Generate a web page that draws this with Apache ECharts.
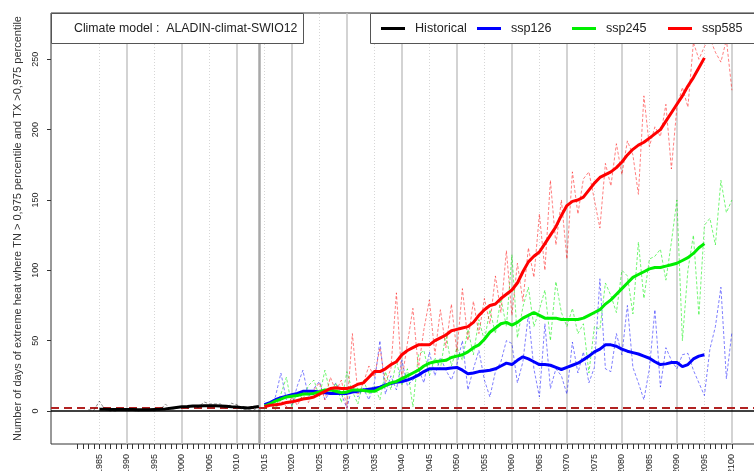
<!DOCTYPE html>
<html>
<head>
<meta charset="utf-8">
<script src="https://cdn.jsdelivr.net/npm/echarts@6/dist/echarts.min.js"></script>
<style>
  html, body { margin: 0; padding: 0; background: #fff; }
  #chart { width: 754px; height: 471px; }
</style>
</head>
<body>
<div id="chart"></div>
<script>
// Extreme heat days (TN > 0.975 and TX > 0.975 percentiles), ALADIN-climat-SWIO12

const modelLabel = 'Climate model :  ALADIN-climat-SWIO12';
const yTitle = 'Number of days of extreme heat where TN > 0,975 percentile and TX >0,975 percentile';

// Historical run: annual values from 1983, smoothed values from 1985
const histStartYear = 1983;
const histAnnual = [1, 0.5, 7, 1, 0, 0, 1, 0, 0.5, 0,
                    1, 0.5, 0, 0.5, 5, 1, 2, 3, 2, 3,
                    2.5, 6.5, 5, 5, 5, 2, 5.5, 4.5, 1, 1,
                    0.5, 3];
const histSmoothStartYear = 1985;
const histSmooth = [1.2, 1.2, 1.1, 1, 1, 1, 1, 0.8, 0.8, 0.8,
                    1, 1.2, 1.5, 2, 2.5, 3, 3.2, 3.5, 3.6, 3.8,
                    3.8, 3.7, 3.6, 3.3, 3, 2.8, 2.4, 2.2, 2.6, 3.2];

// Scenarios: annual values 2015-2100, smoothed values 2015-2095
const scenarioStartYear = 2015;
const ssp126Annual = [2, 5, 10, 27, 8, 4, 18, 29, 10, 16,
                      21, 8, 14, 20, 12, 2, 18, 10, 16, 8,
                      20, 50, 12, 25, 15, 36, 18, 22, 30, 20,
                      42, 25, 38, 29, 22, 33, 50, 15, 30, 43,
                      22, 10, 28, 35, 50, 48, 20, 35, 69, 30,
                      10, 62, 16, 30, 25, 12, 49, 27, 42, 20,
                      31, 94, 30, 28, 55, 40, 75, 31, 20, 8,
                      30, 72, 17, 45, 36, 30, 40, 41, 29, 20,
                      11, 44, 60, 88, 23, 56];
const ssp245Annual = [1, 5, 2, 12, 24, 3, 14, 8, 18, 22,
                      10, 29, 12, 20, 6, 28, 14, 5, 22, 12,
                      18, 8, 28, 15, 36, 18, 30, 3, 40, 43,
                      25, 38, 30, 55, 32, 45, 36, 58, 40, 65,
                      50, 72, 55, 80, 60, 111, 52, 74, 88, 60,
                      72, 86, 50, 92, 70, 60, 73, 55, 62, 27,
                      60, 58, 91, 82, 70, 100, 96, 69, 120, 80,
                      108, 110, 115, 93, 120, 150, 50, 100, 125, 68,
                      132, 137, 118, 164, 141, 150];
const ssp585Annual = [2, 6, 1, 8, 3, 10, 4, 12, 6, 15,
                      20, 8, 24, 14, 22, 2, 55, 12, 20, 32,
                      24, 45, 20, 30, 84, 22, 48, 73, 30, 58,
                      79, 40, 72, 45, 76, 42, 87, 50, 78, 55,
                      80, 62, 96, 70, 114, 68, 105, 78, 116, 95,
                      140, 100, 164, 118, 150, 108, 170, 140, 165, 170,
                      150, 130, 176, 160, 190, 168, 192, 182, 154, 224,
                      188, 202, 195, 218, 172, 216, 230, 216, 262, 250,
                      259, 265, 255, 248, 264, 228];

const ssp126Smooth = [4.5, 6, 8, 9.5, 10.5, 11.5, 12.5, 14, 14, 14,
                      13.5, 13, 12.5, 12.5, 12.5, 12.5, 13.5, 14, 15, 15.5,
                      16, 17, 18.5, 19.5, 20.5, 21, 22, 23.5, 25.5, 28,
                      30, 30, 30, 30, 30.5, 31, 29, 26.5, 27, 28,
                      28.5, 29, 30, 32, 34, 33, 36, 38.5, 37, 35,
                      33, 33, 32.5, 31, 29.5, 31, 32.5, 34, 36.5, 39,
                      42, 44, 47, 47, 46, 44, 42.5, 41.5, 40.5, 39,
                      37.5, 35, 33, 33.5, 34.5, 34.5, 31.5, 33, 37, 39,
                      40];
const ssp245Smooth = [3.5, 5, 7, 8.5, 10, 10.5, 11, 12, 12, 12.5,
                      13.5, 15, 15, 14, 13, 13.5, 15, 15, 14.5, 14,
                      14, 16, 18, 20, 21, 23, 25, 27, 29, 32,
                      34, 35, 35.5, 36, 38, 39, 40, 42, 45, 47,
                      51, 56, 59, 62, 63, 61, 63, 66, 68, 70,
                      68, 66, 66, 66, 65, 65, 65, 65, 66, 68,
                      70, 72, 76, 79, 83, 87, 91, 95, 97, 99,
                      101, 102, 102, 103, 104, 105, 107, 109, 112, 116,
                      119];
const ssp585Smooth = [3, 4, 4.5, 5, 6, 6.5, 7.5, 8.5, 9, 10,
                      12, 14, 16, 16.5, 16, 16, 17, 19, 20, 24,
                      28, 28, 30, 33, 35, 40, 43, 45, 47, 47,
                      47, 50, 52, 54, 57, 58, 59, 60, 63, 68,
                      72, 75, 76, 80, 83, 86, 91, 99, 106, 110,
                      113, 119, 125, 131, 139, 146, 149, 150, 152, 157,
                      162, 166, 168, 170, 173, 177, 182, 186, 189, 191,
                      194, 197, 200, 206, 212, 218, 224, 231, 237, 244,
                      251];

// Axis ticks and reference lines
const yTickValues = [0, 50, 100, 150, 200, 250];
const xLabelYears = [1985, 1990, 1995, 2000, 2005, 2010, 2015, 2020, 2025, 2030,
                     2035, 2040, 2045, 2050, 2055, 2060, 2065, 2070, 2075, 2080,
                     2085, 2090, 2095, 2100];
const firstTickYear = 1981;
const lastTickYear = 2100;
const decadeYears = [1990, 2000, 2010, 2020, 2030, 2040, 2050, 2060, 2070, 2080, 2090, 2100];
const halfDecadeYears = [1985, 1995, 2005, 2015, 2025, 2035, 2045, 2055, 2065, 2075, 2085, 2095];
const scenarioSplitYear = 2014;
const thresholdValue = 2;

const FONT = '"Liberation Sans", Arial, sans-serif';
const toPairs = (start, values) => values.map((v, i) => [start + i, v]);
const xTickYears = [];
for (let y = firstTickYear; y <= lastTickYear; y++) xTickYears.push(y);

const chart = echarts.init(document.getElementById('chart'), null, { renderer: 'canvas' });

function annualSeries(name, color, start, values, opacity) {
  return {
    name: name, type: 'line', data: toPairs(start, values),
    symbol: 'none', silent: true, z: 3, animation: false,
    lineStyle: { color: color, width: 1, type: [3, 2], opacity: opacity }
  };
}
function smoothSeries(name, color, start, values) {
  return {
    name: name, type: 'line', data: toPairs(start, values),
    symbol: 'none', silent: true, z: 4, animation: false,
    itemStyle: { color: color },
    lineStyle: { color: color, width: 3 }
  };
}

const gridLines = [];
decadeYears.forEach(y => gridLines.push({ xAxis: y, lineStyle: { color: '#c4c4c4', width: 1.5, type: 'solid' } }));
halfDecadeYears.forEach(y => gridLines.push({ xAxis: y, lineStyle: { color: '#d6d6d6', width: 1, type: [1, 2] } }));
gridLines.push({ xAxis: scenarioSplitYear, lineStyle: { color: '#a8a8a8', width: 2.5, type: 'solid' } });

const legendItems = [['Historical', 381], ['ssp126', 477], ['ssp245', 572], ['ssp585', 668]];
const plainNumber = v => String(v);

const option = {
  backgroundColor: '#fff',
  animation: false,
  grid: {
    left: 51, top: 13, right: -1, bottom: 27,
    containLabel: false, outerBoundsMode: 'none',
    show: true, borderColor: '#333', borderWidth: 1
  },
  xAxis: {
    type: 'value', min: 1976.2, max: 2104.2,
    axisLine: { show: false, onZero: false },
    splitLine: { show: false },
    axisTick: { show: true, customValues: xTickYears, length: 5, lineStyle: { color: '#333', width: 1 } },
    axisLabel: { customValues: xLabelYears, formatter: plainNumber, rotate: 90, margin: 10,
                 fontSize: 9, color: '#222', fontFamily: FONT }
  },
  yAxis: {
    type: 'value', min: -23.46, max: 282.9,
    axisLine: { show: false, onZero: false },
    splitLine: { show: false },
    axisTick: { show: true, customValues: yTickValues, length: 4, lineStyle: { color: '#333', width: 1 } },
    axisLabel: { customValues: yTickValues, formatter: plainNumber, rotate: 90, margin: 11,
                 fontSize: 9, color: '#222', fontFamily: FONT },
    name: yTitle, nameLocation: 'middle', nameGap: 28, nameRotate: 90,
    nameTextStyle: { fontSize: 11, color: '#333', fontFamily: FONT }
  },
  legend: legendItems.map(([name, left]) => ({
    data: [name], left: left, top: 22, padding: 0, z: 30,
    icon: 'rect', itemWidth: 24, itemHeight: 3, selectedMode: false,
    textStyle: { fontSize: 12.6, color: '#222', fontFamily: FONT, padding: [0, 0, 0, 5] }
  })),
  graphic: [
    { type: 'rect', z: 20, silent: true, shape: { x: 51.5, y: 13.5, width: 252, height: 30 },
      style: { fill: '#fff', stroke: '#555', lineWidth: 1 } },
    { type: 'text', z: 30, silent: true, x: 74, y: 29,
      style: { text: modelLabel, font: '12.3px ' + FONT, fill: '#222', verticalAlign: 'middle' } },
    { type: 'rect', z: 20, silent: true, shape: { x: 370.5, y: 13.5, width: 400, height: 30 },
      style: { fill: '#fff', stroke: '#555', lineWidth: 1 } }
  ],
  series: [
    {
      name: 'grid lines', type: 'line', data: [], silent: true, z: 1,
      markLine: { silent: true, symbol: 'none', animation: false, z: 1, label: { show: false }, data: gridLines }
    },
    {
      name: 'reference lines', type: 'line', data: [], silent: true, z: 2,
      markLine: {
        silent: true, symbol: 'none', animation: false, z: 2, label: { show: false },
        data: [
          { yAxis: 0, lineStyle: { color: '#000', width: 1.5, type: 'solid' } },
          { yAxis: thresholdValue, lineStyle: { color: '#b22222', width: 2, type: [8, 5] } }
        ]
      }
    },
    smoothSeries('Historical', '#000000', histSmoothStartYear, histSmooth),
    smoothSeries('ssp126', '#0000ff', scenarioStartYear, ssp126Smooth),
    smoothSeries('ssp245', '#00ee00', scenarioStartYear, ssp245Smooth),
    smoothSeries('ssp585', '#ff0000', scenarioStartYear, ssp585Smooth),
    annualSeries('Historical annual', '#000000', histStartYear, histAnnual, 0.45),
    annualSeries('ssp126 annual', '#0000ff', scenarioStartYear, ssp126Annual, 0.5),
    annualSeries('ssp245 annual', '#00ee00', scenarioStartYear, ssp245Annual, 0.55),
    annualSeries('ssp585 annual', '#ff0000', scenarioStartYear, ssp585Annual, 0.5)
  ]
};

chart.setOption(option);
</script>
</body>
</html>
